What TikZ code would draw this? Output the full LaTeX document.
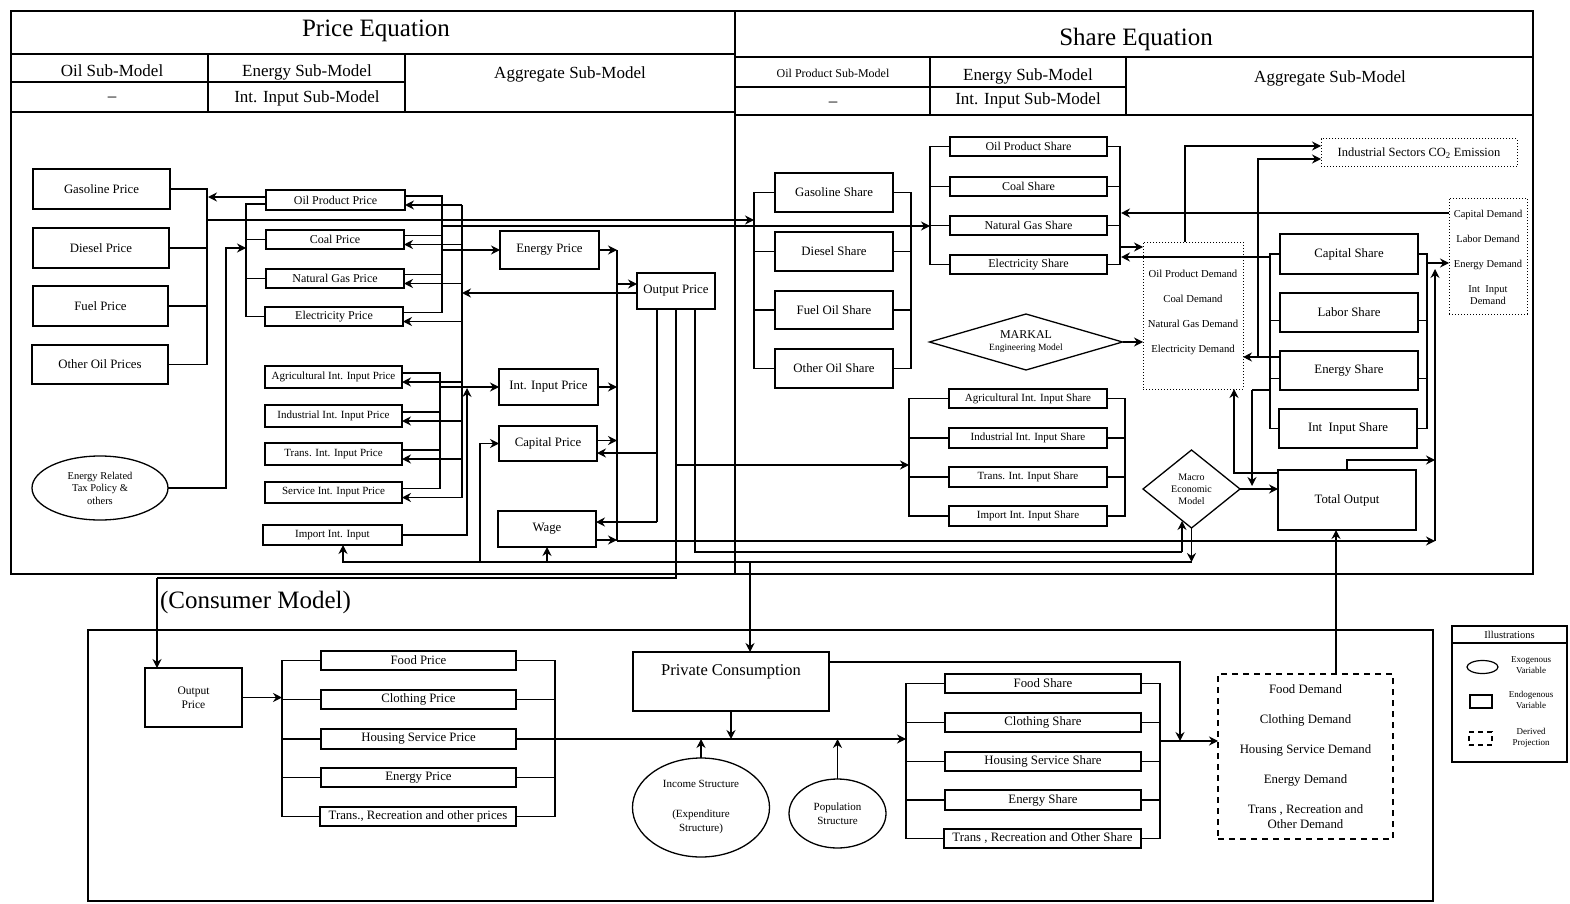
\documentclass[tikz,border=0pt]{standalone}
\usepackage{fontspec}
\setmainfont{Liberation Serif}
\usetikzlibrary{shapes.geometric,arrows.meta,calc}
\newcommand\fsz[2]{\fontsize{#1}{#2}\selectfont}
\tikzset{
  every node/.style={inner sep=0pt, outer sep=0pt},
  sz/.style 2 args={minimum width=#1pt, minimum height=#2pt},
  bb/.style={draw, line width=1.3pt, align=center, font=\fsz{12.8}{15}},
  bm/.style={draw, line width=1.3pt, align=center, font=\fsz{12}{14}},
  bs/.style={draw, line width=1.3pt, align=center, font=\fsz{11}{12}},
  ln/.style={line width=1.2pt},
  ar/.style={line width=1.2pt, -{Stealth[length=9pt,width=9pt,inset=3pt]}},
  dotbox/.style={draw, line width=1pt, dotted},
  dashbox/.style={draw, line width=1.5pt, dash pattern=on 6pt off 5pt},
  frame/.style={line width=2.2pt},
  hdr/.style={line width=1.4pt},
  lbl/.style={align=center},
}
\begin{document}
\begin{tikzpicture}[x=1pt,y=-1pt]
\useasboundingbox (0,0) rectangle (1570,904);
% ---------------- frames and headers ----------------
\draw[frame] (11,11) rectangle (1533,574);
\draw[frame] (735,11) -- (735,574);
\draw[hdr] (11,54) -- (735,54);
\draw[hdr] (11,82) -- (405,82);
\draw[hdr] (11,112) -- (735,112);
\draw[hdr] (208,54) -- (208,112);
\draw[hdr] (405,54) -- (405,112);
\draw[hdr] (735,57) -- (1533,57);
\draw[hdr] (735,87) -- (1126,87);
\draw[hdr] (735,115) -- (1533,115);
\draw[hdr] (930,57) -- (930,115);
\draw[hdr] (1126,57) -- (1126,115);
\node[font=\fsz{25}{28}] (tpe) at (376,31) {Price Equation};
\node[font=\fsz{25}{28}] (tse) at (1136,39) {Share Equation};
\node[font=\fsz{17}{19}] (h1) at (112,71) {Oil Sub-Model};
\node[font=\fsz{17}{19}] (h2) at (112,99) {\textendash};
\node[font=\fsz{17}{19}] (h3) at (307,72) {Energy Sub-Model};
\node[font=\fsz{17}{19}] (h4) at (307,98) {Int. Input Sub-Model};
\node[font=\fsz{17}{19}] (h5) at (570,74) {Aggregate Sub-Model};
\node[font=\fsz{12}{14}] (h6) at (833,73) {Oil Product Sub-Model};
\node[font=\fsz{17}{19}] (h7) at (833,104) {\textendash};
\node[font=\fsz{17}{19}] (h8) at (1028,76) {Energy Sub-Model};
\node[font=\fsz{17}{19}] (h9) at (1028,100) {Int. Input Sub-Model};
\node[font=\fsz{17}{19}] (h10) at (1330,78) {Aggregate Sub-Model};

% ---------------- price equation nodes ----------------
\node[bb,sz={137}{40}] (gas) at (101.5,189) {Gasoline Price};
\node[bb,sz={136}{40}] (dsl) at (101,248) {Diesel Price};
\node[bb,sz={135}{40}] (fup) at (100.5,306) {Fuel Price};
\node[bb,sz={136}{39}] (oop) at (100,364.5) {Other Oil Prices};
\node[bm,sz={139}{20}] (opp) at (335.5,200) {Oil Product Price};
\node[bm,sz={138}{19}] (cop) at (335,239.5) {Coal Price};
\node[bm,sz={138}{19}] (ngp) at (335,278.5) {Natural Gas Price};
\node[bm,sz={138}{19}] (elp) at (334,316.5) {Electricity Price};
\node[bs,sz={137}{22}] (agp) at (333.5,377) {Agricultural Int. Input Price};
\node[bs,sz={137}{22}] (inp) at (333.5,416) {Industrial Int. Input Price};
\node[bs,sz={137}{22}] (trp) at (333.5,454) {Trans. Int. Input Price};
\node[bs,sz={137}{21}] (svp) at (333.5,492.5) {Service Int. Input Price};
\node[bs,sz={139}{20}] (imp) at (332.5,535) {Import Int. Input};
\node[draw,ellipse,line width=1.3pt,sz={136}{64},align=center,font=\fsz{10.5}{12.5}] (tax) at (100,488) {Energy Related\\Tax Policy \&\\others};
\node[bb,sz={99}{38}] (enp) at (549.5,250) {Energy Price};
\node[bb,sz={78}{36}] (outp) at (676,291) {Output Price};
\node[bb,sz={99}{36}] (intp) at (548.5,387) {Int. Input Price};
\node[bb,sz={98}{35}] (capp) at (548,443.5) {Capital Price};
\node[bb,sz={98}{36}] (wage) at (547,529) {Wage};

% ---------------- price equation connectors ----------------
\draw[ln] (gas.east) -- (207,189) -- (207,364.5) -- (oop.east);
\draw[ln] (dsl.east) -- (207,248);
\draw[ln] (fup.east) -- (207,306);
\draw[ar] ([yshift=3pt]opp.west) -- (208,197);
\draw[ar] (207,220) -- (754,220);
\draw[ln] ([yshift=-4pt]opp.west) -- (246,204) -- (246,316.5) -- (elp.west);
\draw[ln] (cop.west) -- (246,239.5);
\draw[ln] (ngp.west) -- (246,278.5);
\draw[ar] (tax.east) -- (226,488) -- (226,248) -- (246,248);
% energy price bus
\draw[ln] ([yshift=4pt]opp.east) -- (442,196) -- (442,312.5) -- ([yshift=4pt]elp.east);
\draw[ln] ([yshift=4pt]cop.east) -- (442,235.5);
\draw[ln] ([yshift=4pt]ngp.east) -- (442,274.5);
\draw[ar] (442,250) -- (enp.west);
\draw[ar] (442,226) -- (930,226);
% output price feedback bus
\draw[ln] (462,205) -- (462,497.5);
\draw[ar] (462,205) -- ([yshift=-5pt]opp.east);
\draw[ar] (462,244.5) -- ([yshift=-5pt]cop.east);
\draw[ar] (462,283.5) -- ([yshift=-5pt]ngp.east);
\draw[ar] (462,321.5) -- ([yshift=-5pt]elp.east);
\draw[ar] (462,382) -- ([yshift=-5pt]agp.east);
\draw[ar] (462,421) -- ([yshift=-5pt]inp.east);
\draw[ar] (462,459) -- ([yshift=-5pt]trp.east);
\draw[ar] (462,497.5) -- ([yshift=-5pt]svp.east);
\draw[ar] ([yshift=-2pt]outp.west) -- (462,293);
% int input price bus
\draw[ln] ([yshift=4pt]agp.east) -- (440,373) -- (440,488.5) -- ([yshift=4pt]svp.east);
\draw[ln] ([yshift=4pt]inp.east) -- (440,412);
\draw[ln] ([yshift=4pt]trp.east) -- (440,450);
\draw[ar] (440,387) -- (intp.west);
\draw[ar] (imp.east) -- (467,535) -- (467,388);
% aggregate price bus
\draw[ln] (617,250) -- (617,541);
\draw[ar] (enp.east) -- (617,250);
\draw[ar] (intp.east) -- (617,387);
\draw[ar] ([yshift=3pt]capp.east) -- (617,440.5);
\draw[ar] ([yshift=-11pt]wage.east) -- (617,540);
\draw[ar] (617,284) -- ([yshift=7pt]outp.west);
% output price distribution
\draw[ln] ([xshift=-19pt]outp.south) -- (657,522);
\draw[ar] (657,522) -- ([yshift=7pt]wage.east);
\draw[ar] (657,453) -- ([yshift=-9.5pt]capp.east);
\draw[ln] (outp.south) -- (676,578) -- (157,578);
\draw[ar] (676,465) -- (909,465);
\draw[ln] ([xshift=19pt]outp.south) -- (695,552) -- (1182,552);
% long horizontal feeders
\draw[ar] (617,541) -- (1435,541);

% ---------------- share equation nodes ----------------
\node[bb,sz={118}{39}] (gass) at (834,192.5) {Gasoline Share};
\node[bb,sz={118}{39}] (diess) at (834,251.5) {Diesel Share};
\node[bb,sz={118}{38}] (fuels) at (834,310) {Fuel Oil Share};
\node[bb,sz={118}{39}] (oths) at (834,368.5) {Other Oil Share};
\node[bm,sz={157}{19}] (oilsh) at (1028.5,146.5) {Oil Product Share};
\node[bm,sz={157}{19}] (coals) at (1028.5,186.5) {Coal Share};
\node[bm,sz={157}{19}] (ngs) at (1028.5,225.5) {Natural Gas Share};
\node[bm,sz={157}{19}] (elecs) at (1028.5,264.5) {Electricity Share};
\node[draw,diamond,shape aspect=3.45,line width=1.3pt,sz={193}{56},align=center] (markal) at (1026,342) {{\fsz{12}{13}MARKAL}\\{\fsz{9.5}{11}Engineering Model}};
\node[bs,sz={158}{19}] (agrs) at (1028,398.5) {Agricultural Int. Input Share};
\node[bs,sz={158}{20}] (inds) at (1028,438) {Industrial Int. Input Share};
\node[bs,sz={158}{20}] (tras) at (1028,477) {Trans. Int. Input Share};
\node[bs,sz={158}{20}] (imps) at (1028,516) {Import Int. Input Share};
\node[dotbox,sz={100}{147}] (dem) at (1193,315.5) {};
\node[lbl,font=\fsz{10.7}{25}] (demt) at (1193,312.5) {Oil Product Demand\\Coal Demand\\Natural Gas Demand\\Electricity Demand};
\node[dotbox,sz={196}{28},font=\fsz{12.5}{14}] (co2) at (1419,153) {Industrial Sectors CO\textsubscript{2} Emission};
\node[dotbox,sz={78}{116}] (cdm) at (1488,256) {};
\node[lbl,font=\fsz{10.5}{25}] (cdmt) at (1488,257) {Capital Demand\\Labor Demand\\Energy Demand\\Int\ \ Input\\[-13pt]Demand};
\node[bb,sz={138}{40}] (caps) at (1349,254) {Capital Share};
\node[bb,sz={138}{39}] (labs) at (1349,312.5) {Labor Share};
\node[bb,sz={138}{39}] (ens) at (1349,370.5) {Energy Share};
\node[bb,sz={138}{39}] (ints) at (1348,428.5) {Int\ \ Input Share};
\node[draw,diamond,shape aspect=1.25,line width=1.3pt,sz={97}{78},align=center,font=\fsz{10}{12}] (macro) at (1191.5,489) {Macro\\Economic\\Model};
\node[bb,sz={138}{60}] (tot) at (1347,500) {Total Output};

% ---------------- share equation connectors ----------------
\draw[ln] (gass.west) -- (754,192.5) -- (754,368.5) -- (oths.west);
\draw[ln] (diess.west) -- (754,251.5);
\draw[ln] (fuels.west) -- (754,310);
\draw[ln] (gass.east) -- (911,192.5) -- (911,368.5) -- (oths.east);
\draw[ln] (diess.east) -- (911,251.5);
\draw[ln] (fuels.east) -- (911,310);
\draw[ln] (oilsh.west) -- (930,146.5) -- (930,264.5) -- (elecs.west);
\draw[ln] (coals.west) -- (930,186.5);
\draw[ln] (ngs.west) -- (930,225.5);
\draw[ln] (oilsh.east) -- (1120,146.5) -- (1120,264.5) -- (elecs.east);
\draw[ln] (coals.east) -- (1120,186.5);
\draw[ln] (ngs.east) -- (1120,225.5);
\draw[ln] (agrs.west) -- (909,398.5) -- (909,516) -- (imps.west);
\draw[ln] (inds.west) -- (909,438);
\draw[ln] (tras.west) -- (909,477);
\draw[ln] (agrs.east) -- (1125,398.5) -- (1125,516) -- (imps.east);
\draw[ln] (inds.east) -- (1125,438);
\draw[ln] (tras.east) -- (1125,477);
\draw[ar] (1120,247) -- (1143,247);
\draw[ar] ([yshift=43pt]cdm.west) -- (1121,213);
\draw[ar] (1270,257) -- (1121,257);
\draw[ar] (1185,242) -- (1185,146) -- ([yshift=7pt]co2.west);
\draw[ar] ([yshift=13.5pt]ens.west) -- (1243,357);
\draw[ar] (1258,357) -- (1258,159) -- ([yshift=-6pt]co2.west);
\draw[ar] (markal.east) -- (1143,342);
\draw[ln] (caps.west) -- (1270,254) -- (1270,428.5) -- (ints.west);
\draw[ln] ([yshift=-8pt]labs.west) -- (1270,320.5);
\draw[ln] ([yshift=-8pt]ens.west) -- (1270,378.5);
\draw[ln] (caps.east) -- (1427,254) -- (1427,428.5) -- (ints.east);
\draw[ln] ([yshift=-8pt]labs.east) -- (1427,320.5);
\draw[ln] ([yshift=-8pt]ens.east) -- (1427,378.5);
\draw[ar] (1427,263) -- ([yshift=-7pt]cdm.west);
\draw[ar] (1435,541) -- (1435,269);
\draw[ln] (1270,390) -- (1252,390);
\draw[ar] (1252,390) -- (1252,486);
\draw[ar] (1278,473) -- (1234,473) -- (1234,389);
\draw[ar] (macro.east) -- (tot.west |- macro.east);
\draw[ar] (tot.north) -- (1347,460) -- (1435,460);
\draw[ar] (1182,552) -- (1182,521);
\draw[ar] (macro.south) -- (1191.5,562);
\draw[ar] (1191.5,562) -- (343,562) -- ([xshift=10.5pt]imp.south);
\draw[ar] (480,562) |- (capp.west);
\draw[ar] (547,562) -- (wage.south);

% ---------------- consumer model ----------------
\node[font=\fsz{25}{28},anchor=west] (cmt) at (160,602) {(Consumer Model)};
\draw[frame] (88,630) rectangle (1433,901);
\node[bb,sz={97}{59},font=\fsz{11.5}{14}] (cout) at (193.5,697.5) {Output\\Price};
\draw[ar] (157,578) -- ([xshift=-36.5pt]cout.north);
\node[bb,sz={195}{19}] (foodp) at (418.5,660.5) {Food Price};
\node[bb,sz={195}{19}] (clop) at (418.5,699.5) {Clothing Price};
\node[bb,sz={195}{20}] (housp) at (418.5,739) {Housing Service Price};
\node[bb,sz={195}{19}] (enerp) at (418.5,777.5) {Energy Price};
\node[bb,sz={196}{19}] (transp) at (418,816.5) {Trans., Recreation and other prices};
\draw[ar] (cout.east) -- (282,697.5);
\draw[ln] (foodp.west) -- (282,660.5) -- (282,816.5) -- (transp.west);
\draw[ln] (clop.west) -- (282,699.5);
\draw[ln] (housp.west) -- (282,739);
\draw[ln] (enerp.west) -- (282,777.5);
\draw[ln] (foodp.east) -- (555,660.5) -- (555,816.5) -- (transp.east);
\draw[ln] (clop.east) -- (555,699.5);
\draw[ln] (enerp.east) -- (555,777.5);
\draw[ar] (housp.east) -- (906,739);
\node[draw,line width=1.3pt,sz={196}{59}] (pc) at (731,681.5) {};
\node[font=\fsz{16.5}{18}] (pct) at (731,672) {Private Consumption};
\draw[ar] (750,562) -- ([xshift=19pt]pc.north);
\draw[ar] (pc.south) -- (731,739);
\draw[ar] ([yshift=19.5pt]pc.east) -- (1180,662) -- (1180,741);
\node[draw,ellipse,line width=1.3pt,sz={137}{99},align=center,font=\fsz{11}{14}] (inc) at (701,807.5) {Income Structure\\[16pt](Expenditure\\Structure)};
\node[draw,ellipse,line width=1.3pt,sz={97}{69},align=center,font=\fsz{11}{14}] (pop) at (837.5,813.5) {Population\\Structure};
\draw[ar] (inc.north) -- (701,739);
\draw[ar] (pop.north) -- (837.5,739);
\node[bb,sz={196}{19}] (foods) at (1043,683.5) {Food Share};
\node[bb,sz={196}{19}] (clos) at (1043,722.5) {Clothing Share};
\node[bb,sz={196}{19}] (houss) at (1043,761.5) {Housing Service Share};
\node[bb,sz={196}{20}] (enes) at (1043,800) {Energy Share};
\node[bb,sz={197}{19}] (transs) at (1042.5,838.5) {Trans , Recreation and Other Share};
\draw[ln] (foods.west) -- (906,683.5) -- (906,838.5) -- (transs.west);
\draw[ln] (clos.west) -- (906,722.5);
\draw[ln] (houss.west) -- (906,761.5);
\draw[ln] (enes.west) -- (906,800);
\draw[ln] (foods.east) -- (1160,683.5) -- (1160,838.5) -- (transs.east);
\draw[ln] (clos.east) -- (1160,722.5);
\draw[ln] (houss.east) -- (1160,761.5);
\draw[ln] (enes.east) -- (1160,800);
\node[dashbox,sz={175}{165}] (cdem) at (1305.5,756.5) {};
\node[lbl,font=\fsz{12.8}{30}] (cdemt) at (1305.5,757) {Food Demand\\Clothing Demand\\Housing Service Demand\\Energy Demand\\Trans , Recreation and\\[-15pt]Other Demand};
\draw[ar] (1160,741) -- (cdem.west |- 1160,741);
\draw[ar] ([xshift=30.5pt]cdem.north) -- ([xshift=-11pt]tot.south);

% ---------------- legend ----------------
\node[draw,line width=1.3pt,sz={115}{136}] (leg) at (1509.5,694) {};
\draw[ln] (leg.west |- 0,643) -- (leg.east |- 0,643);
\node[font=\fsz{10.5}{12}] (legt) at (1509.5,635) {Illustrations};
\node[draw,ellipse,line width=1.2pt,sz={31}{13}] (lege) at (1482.5,667) {};
\node[lbl,font=\fsz{9}{10.5}] (legte) at (1531,665) {Exogenous\\Variable};
\node[draw,line width=1.2pt,sz={22}{13}] (legr) at (1481,701.5) {};
\node[lbl,font=\fsz{9}{10.5}] (legtr) at (1531,700) {Endogenous\\Variable};
\node[draw,line width=1.2pt,dash pattern=on 5pt off 4pt,sz={23}{13}] (legd) at (1480.5,738.5) {};
\node[lbl,font=\fsz{9}{10.5}] (legtd) at (1531,738) {Derived\\Projection};
\end{tikzpicture}
\end{document}
